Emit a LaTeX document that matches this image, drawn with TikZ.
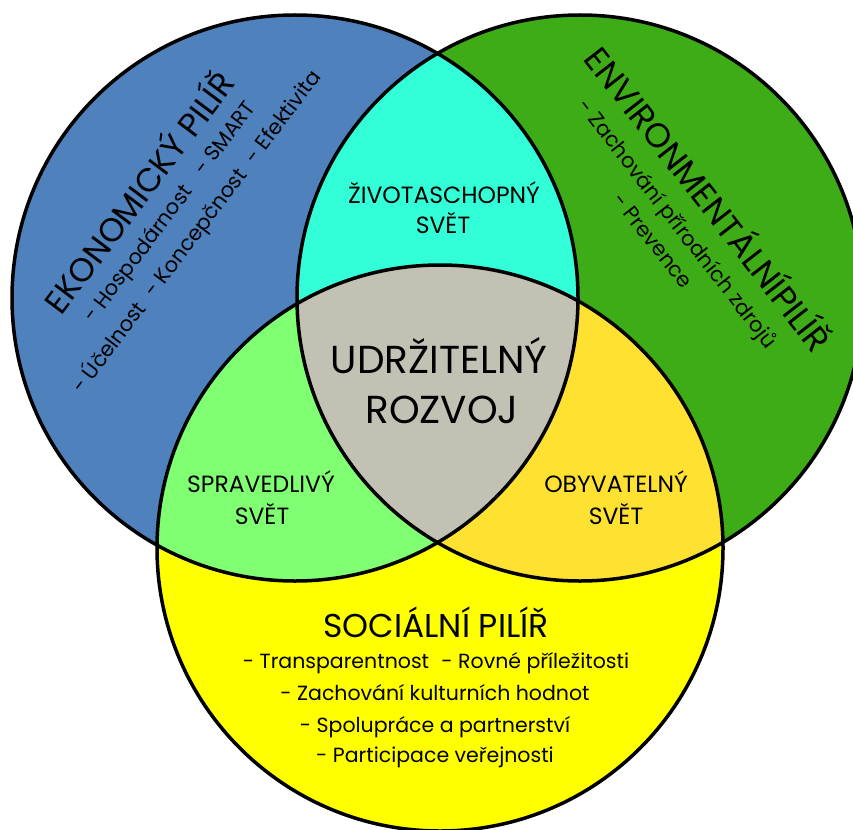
\documentclass[tikz,border=0pt]{standalone}
\usepackage{fontspec}
\setmainfont{Poppins}
\usetikzlibrary{positioning}

\definecolor{econblue}{RGB}{79,129,189}
\definecolor{envgreen}{RGB}{62,172,22}
\definecolor{socyellow}{RGB}{255,255,0}
\definecolor{viablecyan}{RGB}{50,255,215}
\definecolor{equitablegreen}{RGB}{128,255,115}
\definecolor{bearableyellow}{RGB}{255,225,50}
\definecolor{centregray}{RGB}{195,192,180}

\begin{document}
\begin{tikzpicture}[x=1pt,y=-1pt,
  ring/.style={draw=black,line width=3.5pt},
  lbl/.style={inner sep=0pt,anchor=base},
  bigtitle/.style={lbl,font=\fontsize{39}{44}\selectfont},
  pillar/.style={lbl,font=\fontsize{33}{36}\selectfont},
  region/.style={lbl,font=\fontsize{23.5}{26}\selectfont},
  item/.style={lbl,font=\fontsize{20.5}{25}\selectfont}]
\useasboundingbox (0,0) rectangle (853,829);
\fill[white] (0,0) rectangle (853,829);

% circle centres
\coordinate (E) at (295,298);
\coordinate (V) at (580,298);
\coordinate (S) at (440,548);
\def\rad{283}

\fill[econblue] (E) circle[radius=\rad];
\fill[envgreen] (V) circle[radius=\rad];
\fill[socyellow] (S) circle[radius=\rad];
\begin{scope}
\clip (E) circle[radius=\rad];
\fill[viablecyan] (V) circle[radius=\rad];
\fill[equitablegreen] (S) circle[radius=\rad];
\end{scope}
\begin{scope}
\clip (V) circle[radius=\rad];
\fill[bearableyellow] (S) circle[radius=\rad];
\end{scope}
\begin{scope}
\clip (E) circle[radius=\rad];
\clip (V) circle[radius=\rad];
\fill[centregray] (S) circle[radius=\rad];
\end{scope}
\draw[ring] (E) circle[radius=\rad];
\draw[ring] (V) circle[radius=\rad];
\draw[ring] (S) circle[radius=\rad];

% centre
\node[bigtitle] (sust1) at (439,373) {UDRŽITELNÝ};
\node[bigtitle] (sust2) at (442,423) {ROZVOJ};

% overlaps
\node[region] (viable1) at (444,203) {ŽIVOTASCHOPNÝ};
\node[region] (viable2) at (443,233) {SVĚT};
\node[region] (equit1) at (261,492) {SPRAVEDLIVÝ};
\node[region] (equit2) at (262,524) {SVĚT};
\node[region] (bear1) at (616,492) {OBYVATELNÝ};
\node[region] (bear2) at (616,524) {SVĚT};

% economic pillar
\node[pillar,rotate=53] (econ1) at (149,200) {EKONOMICKÝ PILÍŘ};
\node[item,font=\fontsize{21}{25}\selectfont,rotate=53] (econ2) at (175,216) {- Hospodárnost\hspace{0.9em}- SMART};
\node[item,font=\fontsize{21}{25}\selectfont,rotate=53] (econ3) at (202,236) {- Účelnost\hspace{0.6em}- Koncepčnost\hspace{0.6em}- Efektivita};

% environmental pillar
\node[pillar,font=\fontsize{34}{36}\selectfont,rotate=-52] (env1) at (698,207) {ENVIRONMENTÁLNÍPILÍŘ};
\node[item,font=\fontsize{21}{25}\selectfont,rotate=-52] (env2) at (672,228) {- Zachování přírodních zdrojů};
\node[item,font=\fontsize{21}{25}\selectfont,rotate=-52] (env3) at (647,245) {- Prevence};

% social pillar
\node[pillar] (soc1) at (436,637) {SOCIÁLNÍ PILÍŘ};
\node[item] (soc2) at (436,668) {- Transparentnost\hspace{0.6em}- Rovné příležitosti};
\node[item] (soc3) at (435,700) {- Zachování kulturních hodnot};
\node[item] (soc4) at (435,732) {- Spolupráce a partnerství};
\node[item] (soc5) at (435,762) {- Participace veřejnosti};

\end{tikzpicture}
\end{document}
